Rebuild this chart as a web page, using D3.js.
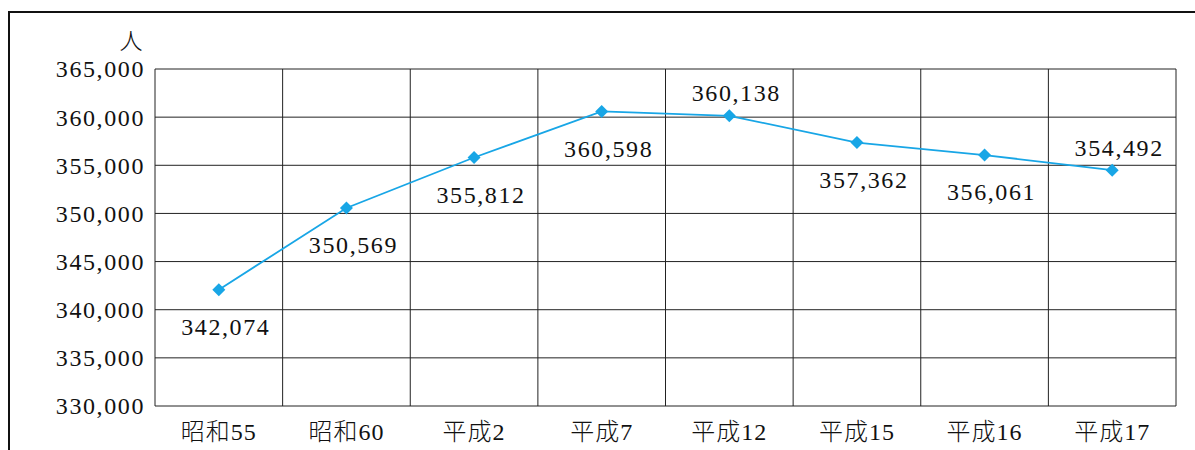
<!DOCTYPE html>
<html>
<head>
<meta charset="utf-8">
<script src="https://cdn.jsdelivr.net/npm/d3@7"></script>
<style>
  body { margin: 0; background: #fff; }
  text { font-family: "Liberation Serif", "Noto Sans CJK JP", serif; }
</style>
</head>
<body>
<div id="chart"></div>
<script>
// data
var years = ["昭和55", "昭和60", "平成2", "平成7", "平成12", "平成15", "平成16", "平成17"]
var population = [342074, 350569, 355812, 360598, 360138, 357362, 356061, 354492]
var labelSide = ["below", "below", "below", "below", "above", "below", "below", "above"]
var yTicks = [330000, 335000, 340000, 345000, 350000, 355000, 360000, 365000]

var W = 1195, H = 450
var plotLeft = 155, plotRight = 1176, plotTop = 69, plotBottom = 406

var svg = d3.select("#chart").append("svg")
    .attr("width", W)
    .attr("height", H)

// outer frame (top + left edge)
svg.append("path")
    .attr("d", "M9,450 V12 H1195")
    .attr("fill", "none")
    .attr("stroke", "#111")
    .attr("stroke-width", 2)

var xs = d3.scaleBand().domain(years).range([plotLeft, plotRight])
var ys = d3.scaleLinear().domain([330000, 365000]).range([plotBottom, plotTop])

// horizontal grid
svg.append("g")
    .selectAll("line")
    .data(yTicks)
    .enter()
    .append("line")
    .attr("x1", plotLeft).attr("x2", plotRight)
    .attr("y1", d => ys(d)).attr("y2", d => ys(d))
    .attr("stroke", "#222")
    .attr("stroke-width", 1)

// vertical grid at band edges
var edges = years.map(d => xs(d)).concat([plotRight])
svg.append("g")
    .selectAll("line")
    .data(edges)
    .enter()
    .append("line")
    .attr("x1", d => d).attr("x2", d => d)
    .attr("y1", plotTop).attr("y2", plotBottom)
    .attr("stroke", "#222")
    .attr("stroke-width", 1)

// y tick labels
var fmt = d3.format(",")
svg.append("g")
    .selectAll("text")
    .data(yTicks)
    .enter()
    .append("text")
    .attr("x", 145)
    .attr("y", d => ys(d))
    .attr("dy", "0.35em")
    .attr("text-anchor", "end")
    .style("font-size", "24px")
    .style("letter-spacing", "1.6px")
    .attr("fill", "#111")
    .text(d => fmt(d))

// unit
svg.append("text")
    .attr("x", 131)
    .attr("y", 41)
    .attr("dy", "0.35em")
    .attr("text-anchor", "middle")
    .style("font-size", "23px")
    .style("font-weight", "300")
    .attr("fill", "#111")
    .text("人")

// x tick labels
svg.append("g")
    .selectAll("text")
    .data(years)
    .enter()
    .append("text")
    .attr("x", d => xs(d) + xs.bandwidth() / 2)
    .attr("y", 432)
    .attr("dy", "0.35em")
    .attr("text-anchor", "middle")
    .style("font-size", "24px")
    .style("font-weight", "300")
    .style("letter-spacing", "1px")
    .attr("fill", "#111")
    .text(d => d)

// line
var line = d3.line()
    .x((d, i) => xs(years[i]) + xs.bandwidth() / 2)
    .y(d => ys(d))

svg.append("path")
    .datum(population)
    .attr("d", line)
    .attr("fill", "none")
    .attr("stroke", "#18a6e6")
    .attr("stroke-width", 1.8)

// diamond markers
svg.append("g")
    .selectAll("path")
    .data(population)
    .enter()
    .append("path")
    .attr("transform", (d, i) => "translate(" + (xs(years[i]) + xs.bandwidth() / 2) + "," + ys(d) + ")")
    .attr("d", "M0,-6.5 L6.5,0 L0,6.5 L-6.5,0 Z")
    .attr("fill", "#18a6e6")

// value labels
svg.append("g")
    .selectAll("text")
    .data(population)
    .enter()
    .append("text")
    .attr("x", (d, i) => xs(years[i]) + xs.bandwidth() / 2 + 7)
    .attr("y", (d, i) => ys(d) + (labelSide[i] == "above" ? -23 : 37))
    .attr("dy", "0.35em")
    .attr("text-anchor", "middle")
    .style("font-size", "24px")
    .style("letter-spacing", "1.6px")
    .attr("fill", "#111")
    .text(d => fmt(d))
</script>
</body>
</html>
